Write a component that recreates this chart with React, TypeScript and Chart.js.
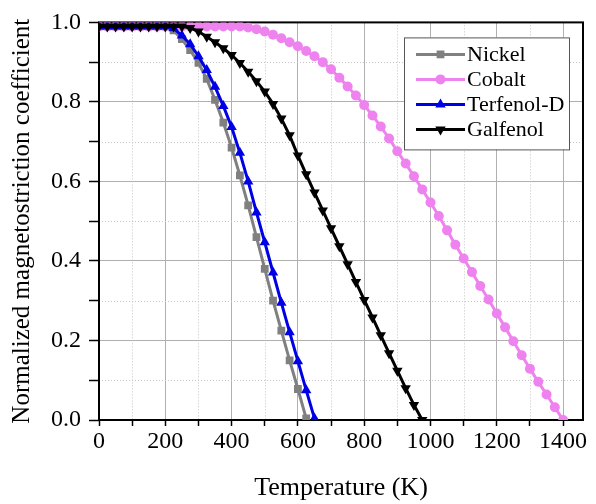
import React, { useEffect, useRef } from 'react';
import { Chart, registerables } from 'chart.js';

Chart.register(...registerables);

// ---- Data ----
const temperatureK = [
  0, 25, 50, 75, 100, 125, 150, 175, 200, 225, 250, 275, 300, 325, 350, 375, 400,
  425, 450, 475, 500, 525, 550, 575, 600, 625, 650, 675, 700, 725, 750, 775, 800,
  825, 850, 875, 900, 925, 950, 975, 1000, 1025, 1050, 1075, 1100, 1125, 1150,
  1175, 1200, 1225, 1250, 1275, 1300, 1325, 1350, 1375, 1400,
];

const nickel = [
  0.99, 0.99, 0.99, 0.99, 0.99, 0.99, 0.99, 0.99, 0.99, 0.98, 0.958, 0.93, 0.898,
  0.858, 0.805, 0.748, 0.685, 0.615, 0.54, 0.46, 0.38, 0.3, 0.225, 0.15, 0.078, 0.004,
];

const cobalt = [
  0.99, 0.99, 0.99, 0.99, 0.99, 0.99, 0.99, 0.99, 0.99, 0.99, 0.99, 0.99, 0.99,
  0.99, 0.99, 0.99, 0.99, 0.99, 0.987, 0.983, 0.977, 0.969, 0.96, 0.95, 0.94, 0.928,
  0.915, 0.9, 0.882, 0.861, 0.839, 0.816, 0.792, 0.766, 0.738, 0.708, 0.676, 0.645,
  0.613, 0.58, 0.547, 0.513, 0.477, 0.441, 0.406, 0.372, 0.337, 0.303, 0.268, 0.233,
  0.198, 0.163, 0.129, 0.096, 0.064, 0.032, 0.0,
];

const terfenolD = [
  0.99, 0.99, 0.99, 0.99, 0.99, 0.99, 0.99, 0.99, 0.99, 0.985, 0.967, 0.945, 0.915,
  0.88, 0.838, 0.79, 0.737, 0.672, 0.6, 0.522, 0.447, 0.371, 0.295, 0.221, 0.148,
  0.075, 0.004,
];

const galfenol = [
  0.99, 0.99, 0.99, 0.99, 0.99, 0.99, 0.99, 0.99, 0.99, 0.99, 0.99, 0.986, 0.977,
  0.964, 0.95, 0.935, 0.918, 0.898, 0.876, 0.852, 0.826, 0.795, 0.758, 0.716, 0.665,
  0.618, 0.572, 0.527, 0.482, 0.437, 0.392, 0.347, 0.302, 0.258, 0.213, 0.168, 0.124,
  0.08, 0.038, 0.0,
];

const seriesNames = ['Nickel', 'Cobalt', 'Terfenol-D', 'Galfenol'];
const xTitle = 'Temperature (K)';
const yTitle = 'Normalized magnetostriction coefficient';

const FONT = "'Liberation Serif', 'Times New Roman', serif";

const toPoints = (values: number[]) =>
  values.map((v, i) => ({ x: temperatureK[i], y: v }));

function drawMarker(ctx: CanvasRenderingContext2D, style: string, x: number, y: number, r: number, rot: number, color: string) {
  ctx.save();
  ctx.fillStyle = color;
  ctx.beginPath();
  if (style === 'rect') {
    const s = Math.SQRT1_2 * r;
    ctx.rect(x - s, y - s, 2 * s, 2 * s);
  } else if (style === 'circle') {
    ctx.arc(x, y, r, 0, Math.PI * 2);
  } else {
    const a0 = (rot * Math.PI) / 180 - Math.PI / 2;
    for (let k = 0; k < 3; k++) {
      const a = a0 + (k * 2 * Math.PI) / 3;
      const px = x + Math.cos(a) * r;
      const py = y + Math.sin(a) * r;
      if (k === 0) ctx.moveTo(px, py);
      else ctx.lineTo(px, py);
    }
    ctx.closePath();
  }
  ctx.fill();
  ctx.restore();
}

const gridFramePlugin = {
  id: 'gridFrame',
  beforeDatasetsDraw(chart: any) {
    const { ctx, chartArea: a, scales } = chart;
    const xs = scales.x;
    const ys = scales.y;
    ctx.save();
    ctx.strokeStyle = '#c4c4c4';
    ctx.lineWidth = 1;
    ctx.setLineDash([1, 2]);
    xs.ticks.forEach((t: any) => {
      if (Math.round(t.value) % 200 !== 0) {
        const px = Math.round(xs.getPixelForValue(t.value)) + 0.5;
        ctx.beginPath();
        ctx.moveTo(px, a.top);
        ctx.lineTo(px, a.bottom);
        ctx.stroke();
      }
    });
    ys.ticks.forEach((t: any) => {
      if (Math.round(t.value * 10) % 2 !== 0) {
        const py = Math.round(ys.getPixelForValue(t.value)) + 0.5;
        ctx.beginPath();
        ctx.moveTo(a.left, py);
        ctx.lineTo(a.right, py);
        ctx.stroke();
      }
    });
    ctx.setLineDash([]);
    ctx.strokeStyle = '#000';
    ctx.lineWidth = 2;
    ctx.strokeRect(a.left, a.top, a.right - a.left, a.bottom - a.top);
    ctx.restore();
  },
};

const boxLegendPlugin = {
  id: 'boxLegend',
  afterDraw(chart: any) {
    const { ctx, chartArea: a } = chart;
    const left = a.right - 179;
    const top = a.top + 15;
    const w = 165;
    const h = 112;
    ctx.save();
    ctx.fillStyle = '#fff';
    ctx.fillRect(left, top, w, h);
    ctx.strokeStyle = '#555';
    ctx.lineWidth = 1;
    ctx.strokeRect(left + 0.5, top + 0.5, w, h);
    ctx.font = `22px ${FONT}`;
    ctx.textBaseline = 'middle';
    ctx.textAlign = 'left';
    const order = seriesNames.map((n) => chart.data.datasets.findIndex((d: any) => d.label === n));
    order.forEach((di: number, row: number) => {
      const ds = chart.data.datasets[di];
      const y = top + 17 + row * 25;
      ctx.strokeStyle = ds.borderColor;
      ctx.lineWidth = 3;
      ctx.beginPath();
      ctx.moveTo(left + 12, y);
      ctx.lineTo(left + 61, y);
      ctx.stroke();
      drawMarker(ctx, ds.pointStyle, left + 36.5, y, ds.pointRadius, ds.pointRotation || 0, ds.pointBackgroundColor);
      ctx.fillStyle = '#000';
      ctx.fillText(ds.label, left + 63, y + 1);
    });
    ctx.restore();
  },
};

export default function App() {
  const canvasRef = useRef<HTMLCanvasElement | null>(null);

  useEffect(() => {
    if (!canvasRef.current) return;
    const mk = (label: string, values: number[], color: string, style: string, radius: number, rotation: number, order: number) => ({
      label,
      data: toPoints(values),
      borderColor: color,
      backgroundColor: color,
      pointBackgroundColor: color,
      pointBorderColor: color,
      pointBorderWidth: 0,
      pointStyle: style,
      pointRadius: radius,
      pointRotation: rotation,
      borderWidth: 3,
      tension: 0,
      order,
    });

    const chart = new Chart(canvasRef.current, {
      type: 'line',
      data: {
        datasets: [
          mk(seriesNames[0], nickel, '#808080', 'rect', 5.5, 0, 3),
          mk(seriesNames[1], cobalt, '#ee82ee', 'circle', 5, 0, 2),
          mk(seriesNames[2], terfenolD, '#0000e6', 'triangle', 6, 0, 1),
          mk(seriesNames[3], galfenol, '#000000', 'triangle', 6, 180, 0),
        ] as any,
      },
      options: {
        responsive: false,
        animation: false,
        layout: { padding: { left: 0, top: 20, right: 13, bottom: 0 } },
        plugins: {
          legend: { display: false },
          tooltip: { enabled: false },
        },
        scales: {
          x: {
            type: 'linear',
            min: 0,
            max: 1460,
            afterFit: (s: any) => {
              s.height = 84;
            },
            ticks: {
              stepSize: 100,
              includeBounds: false,
              autoSkip: false,
              maxRotation: 0,
              color: '#000',
              padding: 1,
              font: { family: FONT, size: 24 },
              callback: (v: any) => (Math.round(v) % 200 === 0 ? String(v) : ''),
            },
            grid: {
              color: (c: any) => (c.tick && Math.round(c.tick.value) % 200 === 0 ? '#b0b0b0' : 'rgba(0,0,0,0)'),
              tickColor: '#000',
              tickLength: 6,
              tickWidth: 1.5,
            },
            border: { display: false },
            title: {
              display: true,
              text: xTitle,
              color: '#000',
              font: { family: FONT, size: 26 },
              padding: { top: 0, bottom: 0 },
            },
          },
          y: {
            type: 'linear',
            min: 0,
            max: 1,
            afterFit: (s: any) => {
              s.width = 99;
            },
            ticks: {
              stepSize: 0.1,
              autoSkip: false,
              color: '#000',
              padding: 8,
              font: { family: FONT, size: 24 },
              callback: (v: any) => (Math.round(v * 10) % 2 === 0 ? Number(v).toFixed(1) : ''),
            },
            grid: {
              color: (c: any) => (c.tick && Math.round(c.tick.value * 10) % 2 === 0 ? '#b0b0b0' : 'rgba(0,0,0,0)'),
              tickColor: '#000',
              tickLength: 10,
              tickWidth: 1.5,
            },
            border: { display: false },
            title: {
              display: true,
              text: yTitle,
              color: '#000',
              font: { family: FONT, size: 25 },
              padding: { top: 7, bottom: 0 },
            },
          },
        },
      } as any,
      plugins: [gridFramePlugin, boxLegendPlugin],
    });
    return () => chart.destroy();
  }, []);

  return (
    <div style={{ position: 'absolute', left: 0, top: 0, width: 596, height: 504, background: '#fff' }}>
      <canvas ref={canvasRef} width={596} height={504} />
    </div>
  );
}
